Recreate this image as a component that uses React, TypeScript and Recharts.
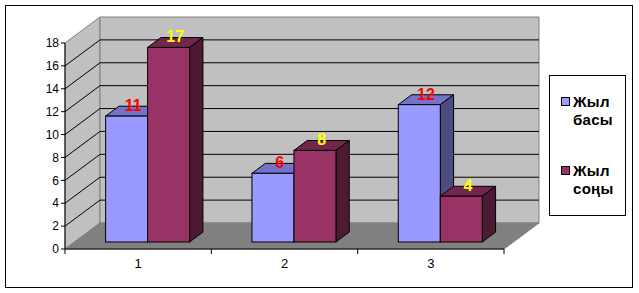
import React from 'react';
import { BarChart, Bar, XAxis, YAxis, CartesianGrid, Legend, LabelList } from 'recharts';

const categories = ['1', '2', '3'];
const startValues = [11, 6, 12];
const endValues = [17, 8, 4];
const seriesNames = ['Жыл басы', 'Жыл соңы'];
const yTicks = [0, 2, 4, 6, 8, 10, 12, 14, 16, 18];

const data = categories.map((c, i) => ({ cat: c, start: startValues[i], end: endValues[i] }));

const FONT = '"Liberation Sans", Arial, sans-serif';
const W = 639;
const H = 293;
const PT = 43; // plot top (front plane)
const PB = 249; // plot bottom (front plane)
const DX = 35; // wall depth x
const DY = 26; // wall depth y
const T1 = 0.27; // bar front depth fraction
const T2 = 0.65; // bar back depth fraction

const BLUE = { front: '#9999FF', top: '#7373CC', side: '#4C4C80' };
const PLUM = { front: '#993366', top: '#73264D', side: '#4D1A33' };

const GridLine = (p: any) => {
  const { x1, x2, y1, index } = p;
  const parts: any[] = [];
  if (index === 0) {
    parts.push(
      <polygon key="lw" points={`${x1},${PB} ${x1},${PT} ${x1 + DX},${PT - DY} ${x1 + DX},${PB - DY}`} fill="#C0C0C0" stroke="#808080" strokeWidth={1} />,
      <polygon key="bw" points={`${x1 + DX},${PT - DY} ${x2 + DX},${PT - DY} ${x2 + DX},${PB - DY} ${x1 + DX},${PB - DY}`} fill="#C0C0C0" stroke="#808080" strokeWidth={1} />,
      <polygon key="fl" points={`${x1},${PB} ${x2},${PB} ${x2 + DX},${PB - DY} ${x1 + DX},${PB - DY}`} fill="#808080" stroke="#808080" strokeWidth={1} />
    );
  }
  if (Math.abs(y1 - PB) > 1 && Math.abs(y1 - PT) > 1) {
    parts.push(
      <line key="d" x1={x1} y1={y1} x2={x1 + DX} y2={y1 - DY} stroke="#000" strokeWidth={1} />,
      <line key="h" x1={x1 + DX} y1={y1 - DY} x2={x2 + DX} y2={y1 - DY} stroke="#000" strokeWidth={1} />
    );
  }
  return <g key={`g-${index}`}>{parts}</g>;
};

const make3D = (c: { front: string; top: string; side: string }) => (p: any) => {
  const { x, y, width: w, height: h } = p;
  if (w == null || h == null) return <g />;
  const fx = x + DX * T1;
  const fy = y - DY * T1;
  const dx = DX * (T2 - T1);
  const dy = DY * (T2 - T1);
  return (
    <g stroke="#000" strokeWidth={1}>
      <polygon points={`${fx},${fy} ${fx + dx},${fy - dy} ${fx + w + dx},${fy - dy} ${fx + w},${fy}`} fill={c.top} />
      <polygon points={`${fx + w},${fy} ${fx + w + dx},${fy - dy} ${fx + w + dx},${fy + h - dy} ${fx + w},${fy + h}`} fill={c.side} />
      <rect x={fx} y={fy} width={w} height={h} fill={c.front} />
    </g>
  );
};

const makeLabel = (color: string) => (p: any) => {
  const { x, y, width, value } = p;
  return (
    <text
      x={x + width / 2 + (DX * (T1 + T2)) / 2}
      y={y - (DY * (T1 + T2)) / 2}
      fill={color}
      textAnchor="middle"
      fontSize={16}
      fontWeight="bold"
      fontFamily={FONT}
    >
      {value}
    </text>
  );
};

const XTick = (p: any) => {
  const { x, y, payload, index, visibleTicksCount } = p;
  const half = payload && payload.offset ? payload.offset : 73;
  const last = index === (visibleTicksCount || 3) - 1;
  return (
    <g>
      <line x1={x - half} y1={PB} x2={x - half} y2={PB + 5} stroke="#000" />
      {last && <line x1={x + half} y1={PB} x2={x + half} y2={PB + 5} stroke="#000" />}
      <text x={x} y={y} dy="0.71em" textAnchor="middle" fontSize={13} fontFamily={FONT} fill="#000">
        {payload.value}
      </text>
    </g>
  );
};

const LegendBox = (props: any) => {
  const payload = (props && props.payload) || [];
  const items = seriesNames.map((n, i) => ({
    name: n,
    color: (payload[i] && payload[i].color) || (i === 0 ? BLUE.front : PLUM.front),
  }));
  return (
    <div
      style={{
        position: 'relative',
        width: 77,
        height: 141,
        boxSizing: 'border-box',
        border: '1px solid #000',
        background: '#fff',
        fontFamily: FONT,
        fontSize: 15,
        fontWeight: 'bold',
        lineHeight: '18px',
        color: '#000',
      }}
    >
      {items.map((it, i) => (
        <React.Fragment key={it.name}>
          <div
            style={{
              position: 'absolute',
              left: 11,
              top: 21 + i * 69,
              width: 9,
              height: 9,
              boxSizing: 'border-box',
              border: '1px solid #000',
              background: it.color,
            }}
          />
          <div style={{ position: 'absolute', left: 23, top: 17 + i * 69, width: 52, letterSpacing: '0.3px' }}>{it.name}</div>
        </React.Fragment>
      ))}
    </div>
  );
};

export default function App() {
  return (
    <div style={{ position: 'absolute', left: 0, top: 0, width: W, height: H, background: '#fff' }}>
      <div
        style={{
          position: 'absolute',
          left: 5,
          top: 5,
          width: 628,
          height: 283,
          boxSizing: 'border-box',
          border: '1px solid #000',
        }}
      />
      <div style={{ position: 'absolute', left: 0, top: 0 }}>
        <BarChart
          width={W}
          height={H}
          data={data}
          margin={{ top: PT, right: 135, left: 0, bottom: 0 }}
          barCategoryGap="21.3%"
          barGap={0}
        >
          <CartesianGrid vertical={false} horizontal={GridLine} />
          <XAxis
            dataKey="cat"
            height={44}
            axisLine={{ stroke: '#000' }}
            tickLine={false}
            tickSize={10}
            tickMargin={0}
            tick={<XTick />}
            interval={0}
          />
          <YAxis
            width={65}
            domain={[0, 18]}
            ticks={yTicks}
            interval={0}
            axisLine={{ stroke: '#000' }}
            tickLine={{ stroke: '#000' }}
            tickSize={4}
            tickMargin={2}
            tick={{ fill: '#000', fontSize: 12, fontFamily: FONT }}
          />
          <Legend
            layout="vertical"
            align="center"
            verticalAlign="middle"
            content={<LegendBox />}
            wrapperStyle={{ position: 'absolute', left: 549, top: 75, width: 77, height: 141, margin: 0 }}
          />
          <Bar dataKey="start" name={seriesNames[0]} fill={BLUE.front} shape={make3D(BLUE)} isAnimationActive={false}>
            <LabelList dataKey="start" content={makeLabel('#FF0000')} />
          </Bar>
          <Bar dataKey="end" name={seriesNames[1]} fill={PLUM.front} shape={make3D(PLUM)} isAnimationActive={false}>
            <LabelList dataKey="end" content={makeLabel('#FFFF00')} />
          </Bar>
        </BarChart>
      </div>
    </div>
  );
}
